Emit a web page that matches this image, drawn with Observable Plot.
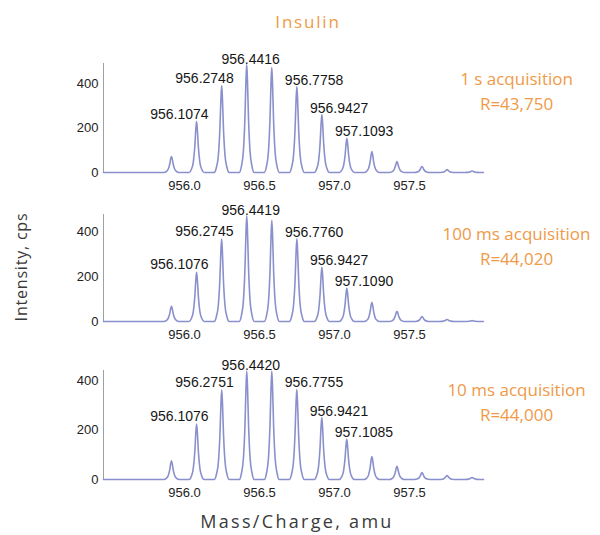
<!DOCTYPE html>
<html>
<head>
<meta charset="utf-8">
<script src="https://cdn.jsdelivr.net/npm/d3@7"></script>
<script src="https://cdn.jsdelivr.net/npm/@observablehq/plot@0.6"></script>
<style>
  body { margin: 0; background: #fff; }
  #wrap { position: relative; width: 600px; height: 535px; background: #fff; overflow: hidden; }
  .t { position: absolute; font-family: "Open Sans", sans-serif; white-space: nowrap; }
  .panel { position: absolute; left: 0; }
</style>
</head>
<body>
<div id="wrap">
  <div class="t" id="title" style="left:0;width:616px;top:10px;text-align:center;font-size:17px;letter-spacing:1.8px;color:#ef9a48;">Insulin</div>
  <div class="t" id="ylab" style="left:21px;top:267px;font-size:16px;letter-spacing:0.8px;color:#3a3a3a;transform:translate(-50%,-50%) rotate(-90deg);">Intensity, cps</div>
  <div class="t" id="xlab" style="left:0;width:594px;top:509px;text-align:center;font-size:18px;letter-spacing:2.3px;color:#3a3a3a;">Mass/Charge, amu</div>
</div>
<script>
// ---- data ----
const xTicks = [956.0, 956.5, 957.0, 957.5];
const yTicks = [0, 200, 400];

// panel 1: 1 s acquisition
const mz1  = [955.940, 956.1074, 956.2748, 956.4416, 956.6086, 956.7758, 956.9427, 957.1093, 957.276, 957.443, 957.610, 957.777, 957.944];
const int1 = [72, 229, 391, 485, 472, 386, 260, 153, 94, 49, 27, 13, 7];
const lab1 = ["956.1074", "956.2748", "956.4416", "956.7758", "956.9427", "957.1093"];
const ann1 = ["1 s acquisition", "R=43,750"];

// panel 2: 100 ms acquisition
const mz2  = [955.940, 956.1076, 956.2745, 956.4419, 956.6090, 956.7760, 956.9427, 957.1090, 957.276, 957.443, 957.610, 957.777, 957.944];
const int2 = [68, 220, 368, 472, 452, 369, 242, 148, 86, 46, 22, 9, 4];
const lab2 = ["956.1076", "956.2745", "956.4419", "956.7760", "956.9427", "957.1090"];
const ann2 = ["100 ms acquisition", "R=44,020"];

// panel 3: 10 ms acquisition
const mz3  = [955.940, 956.1076, 956.2751, 956.4420, 956.6088, 956.7755, 956.9421, 957.1085, 957.276, 957.443, 957.610, 957.777, 957.944];
const int3 = [75, 224, 362, 438, 438, 364, 250, 162, 93, 53, 28, 16, 8];
const lab3 = ["956.1076", "956.2751", "956.4420", "956.7755", "956.9421", "957.1085"];
const ann3 = ["10 ms acquisition", "R=44,000"];

// ---- drawing ----
const X_DOMAIN = [955.487, 958.02];
const LINE = "#8a90cc";
const ORANGE = "#ef9a48";
const NUMFONT = "'Liberation Sans', Arial, sans-serif";
// peak profile shape (offset in amu, fraction of apex)
const shape = [[-0.05,0],[-0.035,0.06],[-0.022,0.2],[-0.012,0.5],[-0.005,0.85],[0,1],[0.005,0.85],[0.012,0.5],[0.022,0.2],[0.035,0.06],[0.05,0]];

function spectrum(mz, ints) {
  const pts = [{x: X_DOMAIN[0], y: 0}];
  mz.forEach((m, i) => shape.forEach(([o, f]) => pts.push({x: m + o, y: ints[i] * f})));
  pts.push({x: X_DOMAIN[1], y: 0});
  return pts;
}

function panel(mz, ints, labels, ann, ymax, frameTop, frameH) {
  const peaks = labels.map(s => {
    const v = +s;
    const i = mz.findIndex(m => Math.abs(m - v) < 1e-6);
    return {x: mz[i], y: ints[i], label: s};
  });
  const apex = d3.greatest(peaks, d => d.y);
  const left = peaks.filter(d => d.x < apex.x);
  const right = peaks.filter(d => d.x > apex.x);
  const mt = 30, mb = 28;
  const txt = {text: "label", fontSize: 14, fontFamily: NUMFONT, fill: "#161616", lineAnchor: "bottom"};
  const p = Plot.plot({
    width: 600,
    height: mt + frameH + mb,
    marginLeft: 103, marginRight: 117, marginTop: mt, marginBottom: mb,
    style: {background: "transparent", overflow: "visible"},
    x: {domain: X_DOMAIN},
    y: {domain: [0, ymax]},
    marks: [
      Plot.frame({anchor: "left", stroke: "#a0a0a0", strokeWidth: 1}),
      Plot.axisY({ticks: yTicks, tickSize: 0, tickPadding: 5, fontSize: 13, fontFamily: NUMFONT, fill: "#222", label: null}),
      Plot.axisX({ticks: xTicks, tickSize: 0, tickPadding: 8, fontSize: 13, fontFamily: NUMFONT, fill: "#222", tickFormat: d3.format(".1f"), label: null, dx: 4}),
      Plot.line(spectrum(mz, ints), {x: "x", y: "y", stroke: LINE, strokeWidth: 1.6, curve: "monotone-x"}),
      Plot.text(left, {...txt, x: "x", y: "y", textAnchor: "end", dx: 12, dy: -3}),
      Plot.text([apex], {...txt, x: "x", y: "y", textAnchor: "middle", dx: 4, dy: -1}),
      Plot.text(right, {...txt, x: "x", y: "y", textAnchor: "start", dx: -12, dy: -2}),
      Plot.text([ann.join("\n")], {frameAnchor: "top-right", dx: 33, dy: frameTop < 100 ? 4 : 8, textAnchor: "middle", lineAnchor: "top", lineHeight: 1.45, fontSize: 17, fontFamily: "'Open Sans', sans-serif", fill: ORANGE, ariaLabel: "annotation"})
    ]
  });
  d3.select(p).selectAll("g[aria-label=annotation] text").style("letter-spacing", "0.8px");
  const div = document.createElement("div");
  div.className = "panel";
  div.style.top = (frameTop - mt) + "px";
  div.appendChild(p);
  document.getElementById("wrap").appendChild(div);
}

panel(mz1, int1, lab1, ann1, 490, 63, 109);
panel(mz2, int2, lab2, ann2, 478, 214, 107);
panel(mz3, int3, lab3, ann3, 440, 370, 109);
</script>
</body>
</html>
